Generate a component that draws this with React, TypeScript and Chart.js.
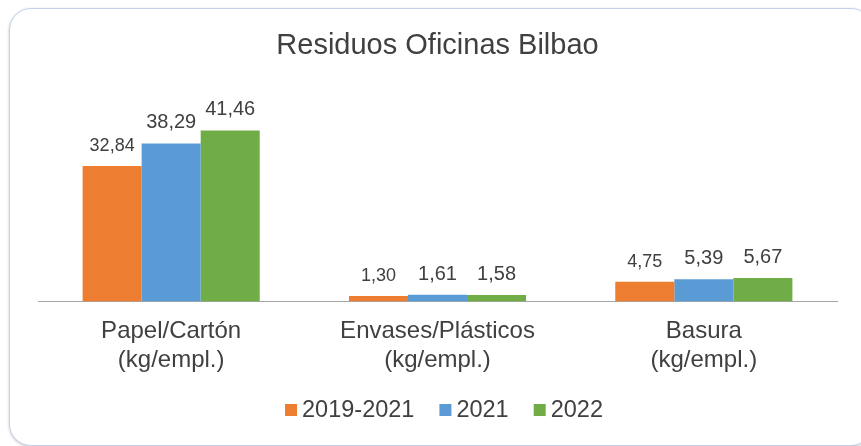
import React, { useEffect, useRef } from 'react';
import { Chart, registerables } from 'chart.js';

Chart.register(...registerables);

const categories: string[][] = [
  ['Papel/Cartón', '(kg/empl.)'],
  ['Envases/Plásticos', '(kg/empl.)'],
  ['Basura', '(kg/empl.)'],
];
const seriesNames = ['2019-2021', '2021', '2022'];
const values2019_2021 = [32.84, 1.3, 4.75];
const values2021 = [38.29, 1.61, 5.39];
const values2022 = [41.46, 1.58, 5.67];
const seriesColors = ['#ED7D31', '#5B9BD5', '#70AD47'];
const labelFontSizes = [18, 20, 20];
const titleText = 'Residuos Oficinas Bilbao';

const FONT = '"Liberation Sans", Arial, sans-serif';
const TEXT = '#404040';
const LEGEND_CENTER_X = 444;
const LEGEND_Y = 410;

const fmt = (v: number) => v.toFixed(2).replace('.', ',');

const dataLabelPlugin = {
  id: 'dataLabels',
  afterDatasetsDraw(chart: any) {
    const ctx = chart.ctx;
    ctx.save();
    ctx.fillStyle = TEXT;
    ctx.textAlign = 'center';
    ctx.textBaseline = 'alphabetic';
    chart.data.datasets.forEach((ds: any, i: number) => {
      const meta = chart.getDatasetMeta(i);
      ctx.font = `${labelFontSizes[i]}px ${FONT}`;
      meta.data.forEach((bar: any, j: number) => {
        ctx.fillText(fmt(ds.data[j]), bar.x, bar.y - 15);
      });
    });
    ctx.restore();
  },
};

const legendPlugin = {
  id: 'customLegend',
  afterDraw(chart: any) {
    const ctx = chart.ctx;
    const fontSize = 23.5;
    const box = 12;
    const boxGap = 5;
    const itemGap = 25;
    ctx.save();
    ctx.font = `${fontSize}px ${FONT}`;
    const items = chart.data.datasets.map((ds: any) => ({
      label: ds.label,
      color: ds.backgroundColor,
      w: box + boxGap + ctx.measureText(ds.label).width,
    }));
    const total = items.reduce((s: number, it: any) => s + it.w, 0) + itemGap * (items.length - 1);
    let x = LEGEND_CENTER_X - total / 2;
    const y = LEGEND_Y;
    ctx.textBaseline = 'middle';
    ctx.textAlign = 'left';
    items.forEach((it: any) => {
      ctx.fillStyle = it.color;
      ctx.fillRect(x, y - box / 2, box, box);
      ctx.fillStyle = TEXT;
      ctx.fillText(it.label, x + box + boxGap, y + 1);
      x += it.w + itemGap;
    });
    ctx.restore();
  },
};

export default function App() {
  const ref = useRef<HTMLCanvasElement | null>(null);

  useEffect(() => {
    if (!ref.current) return;
    const chart = new Chart(ref.current, {
      type: 'bar',
      data: {
        labels: categories,
        datasets: [
          { label: seriesNames[0], data: values2019_2021, backgroundColor: seriesColors[0] },
          { label: seriesNames[1], data: values2021, backgroundColor: seriesColors[1] },
          { label: seriesNames[2], data: values2022, backgroundColor: seriesColors[2] },
        ],
      },
      options: {
        responsive: false,
        animation: false,
        events: [],
        datasets: {
          bar: { categoryPercentage: 0.665, barPercentage: 1.0, borderWidth: 0 },
        },
        layout: { padding: { left: 38, right: 24, top: 0, bottom: 55 } },
        plugins: {
          legend: { display: false },
          tooltip: { enabled: false },
          title: {
            display: true,
            text: titleText,
            color: TEXT,
            font: { family: FONT, size: 29, weight: 'normal', lineHeight: 1.2 },
            padding: { top: 29, bottom: 52 },
          },
        },
        scales: {
          x: {
            grid: { display: false, drawTicks: false },
            border: { display: true, color: '#A6A6A6', width: 1 },
            ticks: {
              color: TEXT,
              padding: 16,
              maxRotation: 0,
              autoSkip: false,
              font: { family: FONT, size: 24, lineHeight: 1.2 },
            },
          },
          y: {
            display: false,
            min: 0,
            max: 45,
          },
        },
      },
      plugins: [dataLabelPlugin, legendPlugin],
    });
    return () => chart.destroy();
  }, []);

  return (
    <div>
      <div
        style={{
          position: 'fixed',
          left: 9,
          top: 8,
          width: 862,
          height: 436,
          border: '1.5px solid #C3D2E9',
          borderRadius: 22,
          boxShadow: '0 1px 3px rgba(0,0,0,0.22)',
          background: '#fff',
        }}
      />
      <canvas
        ref={ref}
        width={861}
        height={446}
        style={{ position: 'fixed', left: 0, top: 0, display: 'block' }}
      />
    </div>
  );
}
